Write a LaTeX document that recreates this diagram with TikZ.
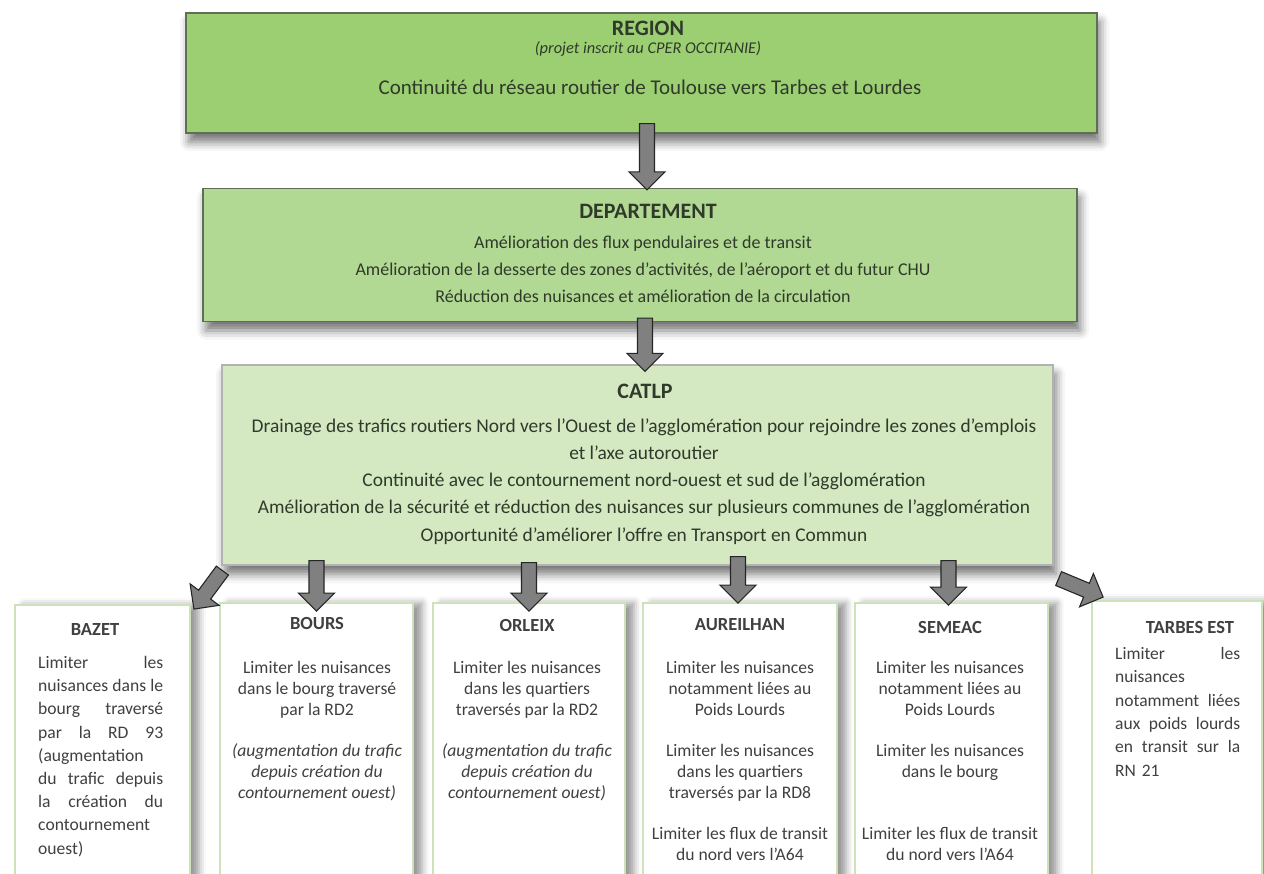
\documentclass[tikz,border=0pt]{standalone}
\usepackage{fontspec}
\setmainfont{Carlito}
\usetikzlibrary{calc,shadows.blur}

\definecolor{vertregion}{HTML}{9CCF72}
\definecolor{vertdep}{HTML}{B2D993}
\definecolor{vertcatlp}{HTML}{D4E9C2}
\definecolor{bordfonce}{HTML}{5F6E55}
\definecolor{bordcommune}{HTML}{CCE2BA}
\definecolor{texteniveau}{HTML}{2F3A2B}
\definecolor{textecommune}{HTML}{404040}

% grosse fleche grise entre deux points nommes
\newcommand{\fleche}[2]{%
	\coordinate (fb) at ($(#2)!18pt!(#1)$);
	\filldraw[fleche] ($(#1)!7.5pt!90:(#2)$) -- ($(fb)!7.5pt!-90:(#1)$) -- ($(fb)!18pt!-90:(#1)$)
		-- (#2) -- ($(fb)!18pt!90:(#1)$) -- ($(fb)!7.5pt!90:(#1)$) -- ($(#1)!7.5pt!-90:(#2)$) -- cycle;
}
% ligne justifiee (mots separes par \hfill)
\newcommand{\jl}[1]{\leavevmode\hbox to 125pt{#1}}

\begin{document}
\begin{tikzpicture}[x=1pt,y=-1pt,
	niveau/.style={draw=bordfonce, line width=1.2pt, fill=#1,
		blur shadow={shadow xshift=3pt, shadow yshift=-9pt, shadow blur radius=9pt, shadow opacity=55}},
	commune/.style={draw=bordcommune, line width=1.8pt, fill=white,
		blur shadow={shadow xshift=9pt, shadow yshift=0pt, shadow blur radius=7pt, shadow opacity=40}},
	fleche/.style={fill=black!50, draw=black!85, line width=1.1pt, line join=miter},
	titre/.style={font=\bfseries\fontsize{22}{24}\selectfont, text=texteniveau, inner sep=0pt},
	ligne/.style={font=\fontsize{18}{27}\selectfont, text=texteniveau, align=center, inner sep=0pt},
	titrec/.style={font=\bfseries\fontsize{18.5}{20}\selectfont, text=textecommune, inner sep=0pt},
	corps/.style={font=\fontsize{17.6}{21}\selectfont, text=textecommune, align=center, inner sep=0pt}]
\useasboundingbox (0,0) rectangle (1264,874);

% niveaux
\node[niveau=vertregion, minimum width=911pt, minimum height=120pt] (region) at (641.5,73) {};
\node[niveau=vertdep, minimum width=874pt, minimum height=133pt] (dep) at (640,255) {};
\node[niveau=vertcatlp, draw=black!30, minimum width=831pt, minimum height=200pt] (catlp) at (637.5,465) {};

% communes
\node[commune, minimum width=175pt, minimum height=282pt] (bazet) at (102.5,746) {};
\node[commune, minimum width=193pt, minimum height=284pt] (bours) at (316.5,745) {};
\node[commune, minimum width=192pt, minimum height=284pt] (orleix) at (529,745) {};
\node[commune, minimum width=194pt, minimum height=284pt] (aureilhan) at (740,745) {};
\node[commune, minimum width=193pt, minimum height=284pt] (semeac) at (951.5,745) {};
\node[commune, minimum width=170pt, minimum height=286pt] (tarbes) at (1177,744) {};

% fleches
\coordinate (r1) at ($(region.south)+(5.5,-10)$);
\coordinate (r2) at ($(dep.north)+(7,2)$);
\fleche{r1}{r2}
\coordinate (d1) at ($(dep.south)+(5,-4)$);
\coordinate (d2) at ($(catlp.north)+(7.5,7)$);
\fleche{d1}{d2}
\coordinate (c1) at ($(catlp.south -| bours.north)+(0,-5)$);
\coordinate (c2) at ($(bours.north)+(0,9)$);
\fleche{c1}{c2}
\coordinate (c3) at ($(catlp.south -| orleix.north)+(0,-3)$);
\coordinate (c4) at ($(orleix.north)+(0,9)$);
\fleche{c3}{c4}
\coordinate (c5) at ($(catlp.south -| aureilhan.north)+(-2,-9)$);
\coordinate (c6) at ($(aureilhan.north)+(-2,1)$);
\fleche{c5}{c6}
\coordinate (c7) at ($(catlp.south -| semeac.north)+(-3,-5)$);
\coordinate (c8) at ($(semeac.north)+(-3,3)$);
\fleche{c7}{c8}
\coordinate (c9) at ($(catlp.south west)+(1,5)$);
\coordinate (c10) at ($(bazet.north east)+(3,5)$);
\fleche{c9}{c10}
\coordinate (c11) at ($(catlp.south east)+(5,13)$);
\coordinate (c12) at ($(tarbes.north west)+(12,-3)$);
\fleche{c11}{c12}

% textes des niveaux
\node[titre] at (648,28) {REGION};
\node[ligne, font=\itshape\fontsize{16.4}{18}\selectfont] at (648,49) {(projet inscrit au CPER OCCITANIE)};
\node[ligne, font=\fontsize{21}{24}\selectfont] at (650,87) {Continuité du réseau routier de Toulouse vers Tarbes et Lourdes};

\node[titre] at (648,211) {DEPARTEMENT};
\node[ligne, anchor=north] at (643,236) {Amélioration des flux pendulaires et de transit\\
	Amélioration de la desserte des zones d’activités, de l’aéroport et du futur CHU\\
	Réduction des nuisances et amélioration de la circulation};

\node[titre] at (645,391) {CATLP};
\node[ligne, font=\fontsize{19.4}{27.2}\selectfont, anchor=north] at (644,418.5) {Drainage des trafics routiers Nord vers l’Ouest de l’agglomération pour rejoindre les zones d’emplois\\
	et l’axe autoroutier\\
	Continuité avec le contournement nord-ouest et sud de l’agglomération\\
	Amélioration de la sécurité et réduction des nuisances sur plusieurs communes de l’agglomération\\
	Opportunité d’améliorer l’offre en Transport en Commun};

% textes des communes
\node[titrec] at (95,630) {BAZET};
\node[corps, font=\fontsize{17.6}{23.2}\selectfont, text width=125pt, align=left, anchor=north west] at (38,656) {%
	\jl{Limiter\hfill les}\\ \jl{nuisances\hfill dans\hfill le}\\ \jl{bourg\hfill traversé}\\ \jl{par\hfill la\hfill RD\hfill 93}\\
	(augmentation\\ \jl{du\hfill trafic\hfill depuis}\\ \jl{la\hfill création\hfill du}\\ contournement\\ ouest)};

\node[titrec] at (317,624) {BOURS};
\node[corps, anchor=north] at (317,661) {Limiter les nuisances\\ dans le bourg traversé\\ par la RD2\\[20pt]
	\itshape (augmentation du trafic\\ \itshape depuis création du\\ \itshape contournement ouest)};

\node[titrec] at (527,625) {ORLEIX};
\node[corps, anchor=north] at (527,661) {Limiter les nuisances\\ dans les quartiers\\ traversés par la RD2\\[20pt]
	\itshape (augmentation du trafic\\ \itshape depuis création du\\ \itshape contournement ouest)};

\node[titrec] at (740,625) {AUREILHAN};
\node[corps, anchor=north] at (740,661) {Limiter les nuisances\\ notamment liées au\\ Poids Lourds\\[20pt]
	Limiter les nuisances\\ dans les quartiers\\ traversés par la RD8\\[20pt]
	Limiter les flux de transit\\ du nord vers l’A64};

\node[titrec] at (950,627) {SEMEAC};
\node[corps, anchor=north] at (950,661) {Limiter les nuisances\\ notamment liées au\\ Poids Lourds\\[20pt]
	Limiter les nuisances\\ dans le bourg\\[41pt]
	Limiter les flux de transit\\ du nord vers l’A64};

\node[titrec] at (1190,627) {TARBES EST};
\node[corps, font=\fontsize{17.5}{23.4}\selectfont, text width=125pt, align=left, anchor=north west] at (1115,647) {%
	\jl{Limiter\hfill les}\\ nuisances\\ \jl{notamment\hfill liées}\\ \jl{aux\hfill poids\hfill lourds}\\ \jl{en\hfill transit\hfill sur\hfill la}\\ RN 21};
\end{tikzpicture}
\end{document}
